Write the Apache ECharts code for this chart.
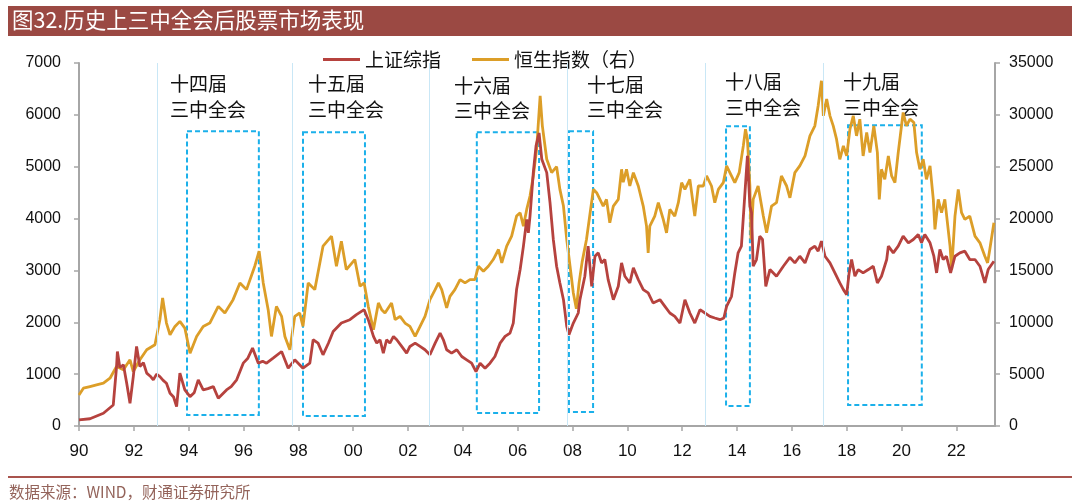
<!DOCTYPE html>
<html>
<head>
<meta charset="utf-8">
<script src="https://cdn.jsdelivr.net/npm/echarts@6/dist/echarts.min.js"></script>
<style>
html,body{margin:0;padding:0;background:#fff;}
#chart{width:1080px;height:503px;}
</style>
</head>
<body>
<div id="chart"></div>
<script>
// ---- data: [position on the chart's year axis, index value] ----
var shData = [
[1990.00,120],[1990.40,140],[1990.89,245],[1991.25,406],[1991.37,1147],[1991.40,1437],[1991.49,1128],[1991.62,1180],[1991.74,825],[1991.86,439],[1991.98,953],[1992.10,1534],[1992.22,1147],[1992.35,1220],[1992.47,1019],[1992.60,960],[1992.71,890],[1992.83,1000],[1992.95,953],[1993.07,880],[1993.19,825],[1993.32,632],[1993.45,560],[1993.56,374],[1993.68,1019],[1993.86,696],[1994.05,567],[1994.20,640],[1994.35,890],[1994.53,696],[1994.70,720],[1994.90,760],[1995.08,535],[1995.38,696],[1995.55,760],[1995.75,890],[1995.99,1212],[1996.15,1300],[1996.33,1502],[1996.54,1212],[1996.70,1250],[1996.84,1212],[1997.08,1309],[1997.39,1437],[1997.63,1115],[1997.87,1276],[1998.17,1115],[1998.42,1212],[1998.54,1663],[1998.72,1598],[1998.90,1373],[1999.10,1600],[1999.27,1824],[1999.57,1985],[1999.88,2050],[2000.12,2147],[2000.40,2243],[2000.55,2050],
[2000.74,1727],[2000.86,1598],[2000.98,1663],[2001.10,1405],[2001.22,1663],[2001.34,1598],[2001.47,1727],[2001.59,1663],[2001.77,1534],[2001.95,1405],[2002.07,1534],[2002.26,1598],[2002.44,1534],[2002.62,1470],[2002.80,1373],[2002.99,1598],[2003.17,1792],[2003.29,1663],[2003.41,1470],[2003.59,1405],[2003.78,1470],[2003.96,1340],[2004.14,1276],[2004.32,1212],[2004.48,1050],[2004.63,1212],[2004.81,1115],[2004.99,1212],[2005.17,1340],[2005.36,1598],[2005.54,1727],[2005.72,1792],[2005.84,1985],[2005.96,2630],[2006.09,3017],[2006.21,3468],[2006.33,3983],[2006.39,3726],[2006.45,4048],[2006.57,4886],[2006.67,5402],[2006.78,5650],[2006.88,5144],[2007.06,4886],[2007.18,4306],[2007.30,3597],[2007.42,3081],[2007.54,2759],[2007.67,2436],[2007.79,1920],[2007.87,1760],[2008.03,1985],[2008.21,2179],
[2008.27,2436],[2008.45,2888],[2008.57,3468],[2008.70,2694],[2008.82,3274],[2008.94,3339],[2009.06,3145],[2009.18,3210],[2009.30,2823],[2009.49,2436],[2009.67,2694],[2009.79,3145],[2009.91,2888],[2010.09,2759],[2010.22,3049],[2010.40,2823],[2010.58,2630],[2010.76,2566],[2010.94,2372],[2011.19,2436],[2011.37,2308],[2011.55,2179],[2011.73,2114],[2011.92,1985],[2012.10,2436],[2012.28,2179],[2012.46,1985],[2012.65,2243],[2012.83,2179],[2013.01,2114],[2013.19,2082],[2013.38,2050],[2013.52,2082],[2013.62,2308],[2013.80,2501],[2013.92,2952],[2014.04,3339],[2014.16,3468],[2014.29,4499],[2014.38,5208],[2014.47,4241],[2014.53,4113],[2014.59,3081],[2014.71,3210],[2014.83,3661],[2014.93,3597],[2015.05,2694],[2015.20,3017],[2015.44,2888],[2015.69,3081],[2015.93,3250],
[2016.11,3145],[2016.29,3274],[2016.48,3145],[2016.66,3403],[2016.84,3468],[2016.96,3371],[2017.08,3565],[2017.21,3274],[2017.39,3145],[2017.57,2952],[2017.75,2759],[2017.88,2630],[2018.00,2533],[2018.09,2952],[2018.18,3210],[2018.30,2888],[2018.42,3017],[2018.60,2952],[2018.79,3017],[2018.97,3081],[2019.12,2759],[2019.27,2888],[2019.46,3210],[2019.52,3468],[2019.70,3339],[2019.88,3468],[2020.06,3661],[2020.25,3532],[2020.43,3597],[2020.61,3693],[2020.73,3532],[2020.85,3693],[2021.04,3532],[2021.18,3274],[2021.28,2952],[2021.40,3403],[2021.52,3210],[2021.64,3274],[2021.79,2952],[2021.95,3274],[2022.13,3339],[2022.31,3371],[2022.49,3210],[2022.68,3210],[2022.86,3081],[2023.04,2759],[2023.16,3017],[2023.37,3178]
];
var hsData = [
[1990.00,2997],[1990.16,3645],[1990.40,3806],[1990.64,3964],[1990.89,4125],[1991.13,4610],[1991.37,5734],[1991.62,5415],[1991.86,6382],[1991.98,5251],[1992.22,6382],[1992.47,7348],[1992.77,7832],[1992.95,10249],[1993.05,12345],[1993.19,9927],[1993.32,8798],[1993.50,9603],[1993.68,10087],[1993.86,9443],[1994.05,7025],[1994.29,8637],[1994.53,9603],[1994.77,9927],[1995.08,11535],[1995.32,10893],[1995.62,12182],[1995.87,13794],[1996.11,13149],[1996.41,15402],[1996.57,16853],[1996.72,13794],[1996.90,11216],[1997.02,8637],[1997.20,11535],[1997.39,10571],[1997.51,8637],[1997.69,7348],[1997.87,10571],[1998.05,10893],[1998.17,9603],[1998.36,13794],[1998.60,13149],[1998.90,17335],[1999.21,18303],[1999.39,15402],[1999.57,17819],[1999.75,15083],[2000.06,16050],
[2000.25,13472],[2000.40,13794],[2000.55,11539],[2000.74,9282],[2000.92,11861],[2001.04,11216],[2001.16,10893],[2001.40,11861],[2001.53,10249],[2001.71,10571],[2001.89,9927],[2002.07,9603],[2002.26,8637],[2002.44,9603],[2002.62,10571],[2002.80,12182],[2002.99,13149],[2003.11,13794],[2003.23,13149],[2003.41,11378],[2003.53,12504],[2003.71,13149],[2003.90,14117],[2004.08,13794],[2004.26,14117],[2004.44,14117],[2004.57,15405],[2004.75,14920],[2004.93,15405],[2005.11,16050],[2005.30,17017],[2005.42,15727],[2005.60,17339],[2005.78,18305],[2005.96,20240],[2006.09,20563],[2006.21,19273],[2006.33,20884],[2006.45,22174],[2006.57,24107],[2006.69,26685],[2006.82,31839],[2006.90,28940],[2007.06,25718],[2007.24,24430],[2007.42,25000],[2007.54,22818],[2007.67,21206],[2007.79,17983],[2007.91,15405],[2008.03,12831],[2008.14,11300],[2008.24,13800],[2008.35,15800],
[2008.51,17983],[2008.76,22818],[2008.88,22500],[2009.00,21852],[2009.12,21206],[2009.24,21852],[2009.36,19595],[2009.49,21206],[2009.67,21852],[2009.79,24751],[2009.85,23500],[2009.97,24751],[2010.09,23140],[2010.22,24430],[2010.40,23140],[2010.58,21206],[2010.70,19273],[2010.76,16695],[2010.82,19273],[2011.00,20240],[2011.13,21530],[2011.31,19917],[2011.43,18628],[2011.55,20884],[2011.73,20240],[2011.86,21530],[2011.98,23463],[2012.10,22818],[2012.28,23785],[2012.46,20240],[2012.59,23140],[2012.77,23140],[2012.89,24107],[2013.07,23140],[2013.19,21530],[2013.32,22818],[2013.50,23463],[2013.62,25073],[2013.74,24430],[2013.92,23463],[2014.08,24430],[2014.23,27008],[2014.31,28620],[2014.38,27650],[2014.47,23140],[2014.51,17983],[2014.59,21852],[2014.77,23140],[2014.96,20240],[2015.08,18628],[2015.26,21206],[2015.44,21530],[2015.62,24107],[2015.81,23140],[2015.93,22000],
[2016.11,24430],[2016.29,25073],[2016.48,26041],[2016.66,27975],[2016.84,28940],[2016.96,30875],[2017.08,33290],[2017.15,29906],[2017.27,31520],[2017.39,29906],[2017.51,28940],[2017.63,27652],[2017.75,25718],[2017.88,27008],[2018.00,26041],[2018.12,28620],[2018.24,29906],[2018.36,27975],[2018.48,29586],[2018.60,26041],[2018.73,28298],[2018.85,26364],[2018.99,28940],[2019.12,26364],[2019.19,21852],[2019.27,24751],[2019.39,23785],[2019.52,26041],[2019.64,24107],[2019.76,23463],[2019.88,26364],[2020.06,30230],[2020.18,28940],[2020.31,29586],[2020.45,29263],[2020.55,26364],[2020.67,24751],[2020.79,25718],[2020.91,23785],[2021.04,25073],[2021.16,21852],[2021.22,18950],[2021.34,21852],[2021.46,20563],[2021.58,21852],[2021.77,17339],[2021.83,15083],[2021.95,20240],[2022.07,22818],[2022.19,20563],[2022.31,19917],[2022.49,20240],[2022.68,18305],[2022.86,17661],[2023.04,16372],[2023.14,15727],[2023.22,17017],[2023.37,19595]
];

// congress lines and post-plenum windows (x on year axis, y on left axis)
var congressLines = [1992.84,1997.77,2002.76,2007.80,2012.83,2017.13];
var boxStart = [1993.94,1998.17,2004.51,2007.87,2013.60,2018.05];
var boxEnd   = [1996.56,2000.43,2006.78,2008.75,2014.47,2020.74];
var boxTop   = [5685,5666,5666,5685,5782,5801];
var boxBottom= [213,193,251,271,387,406];
var plenumNames = ['十四届','十五届','十六届','十七届','十八届','十九届'];
var xTickLabels = ['90','92','94','96','98','00','02','04','06','08','10','12','14','16','18','20','22'];

var chart = echarts.init(document.getElementById('chart'));
var latin = 'Liberation Sans, Arial, sans-serif';
var cjk = 'Noto Sans CJK SC, sans-serif';

var labelPos = [[170,85,111],[308,85,111],[454,87,112],[587,86,111],[725,83,109],[843,83,109]];
var graphics = [
  {type:'rect', shape:{x:8,y:6,width:1064,height:30}, style:{fill:'#9B4943'}},
  {type:'text', left:12, top:9, style:{text:'图32.历史上三中全会后股票市场表现', fill:'#fff', font:'21.5px ' + cjk}},
  {type:'line', shape:{x1:8,y1:477,x2:1072,y2:477}, style:{stroke:'#A9544E', lineWidth:2}},
  {type:'text', left:9, top:484, style:{text:'数据来源：WIND，财通证券研究所', fill:'#94645B', font:'15.5px ' + cjk}}
];
plenumNames.forEach(function(n,i){
  graphics.push({type:'text', left:labelPos[i][0], top:labelPos[i][1]-11, style:{text:n, fill:'#111', font:'19px ' + cjk}});
  graphics.push({type:'text', left:labelPos[i][0], top:labelPos[i][2]-11, style:{text:'三中全会', fill:'#111', font:'19px ' + cjk}});
});

var option = {
  animation:false,
  backgroundColor:'#fff',
  graphic: graphics,
  legend:{
    data:['上证综指','恒生指数（右）'],
    left:323, top:50, padding:0, itemGap:31, itemWidth:37, itemHeight:3, icon:'rect',
    textStyle:{fontFamily:cjk, fontSize:19, color:'#111'}
  },
  grid:{left:79, right:85, top:63, bottom:77},
  xAxis:{
    type:'value', min:1990, max:2023.41, interval:2,
    splitLine:{show:false},
    axisLine:{lineStyle:{color:'#A6A6A6', width:2}},
    axisTick:{length:5, lineStyle:{color:'#A6A6A6', width:1.5}},
    axisLabel:{
      margin:17, color:'#111', fontFamily:latin, fontSize:17, showMaxLabel:false,
      formatter:function(v){ var k = Math.round((v-1990)/2); return (Math.abs(v-(1990+2*k))<1e-6 && xTickLabels[k]) ? xTickLabels[k] : ''; }
    }
  },
  yAxis:[
    {type:'value', min:0, max:7000, interval:1000, splitLine:{show:false},
     axisLine:{show:true, lineStyle:{color:'#A6A6A6', width:2}},
     axisTick:{show:true, length:5, lineStyle:{color:'#A6A6A6', width:1.5}},
     axisLabel:{margin:18, color:'#111', fontFamily:latin, fontSize:16, formatter:function(v){ return String(v); }}},
    {type:'value', min:0, max:35000, interval:5000, splitLine:{show:false},
     axisLine:{show:true, lineStyle:{color:'#A6A6A6', width:2}},
     axisTick:{show:true, length:5, lineStyle:{color:'#A6A6A6', width:1.5}},
     axisLabel:{margin:14, color:'#111', fontFamily:latin, fontSize:16, formatter:function(v){ return String(v); }}}
  ],
  series:[
    {
      name:'上证综指', type:'line', yAxisIndex:0, z:3, showSymbol:false, symbol:'none',
      data: shData,
      lineStyle:{color:'#B6423E', width:2.8}, itemStyle:{color:'#B6423E'},
      markLine:{silent:true, symbol:['none','none'], label:{show:false},
        lineStyle:{color:'#C9E7F6', width:1, type:'solid'},
        data: congressLines.map(function(v){ return {xAxis:v}; })},
      markArea:{silent:true, label:{show:false},
        itemStyle:{color:'rgba(0,0,0,0)', borderColor:'#1BB0EA', borderWidth:2, borderType:[5,3]},
        data: boxStart.map(function(s,i){ return [{coord:[s, boxTop[i]]},{coord:[boxEnd[i], boxBottom[i]]}]; })}
    },
    {
      name:'恒生指数（右）', type:'line', yAxisIndex:1, z:2, showSymbol:false, symbol:'none',
      data: hsData,
      lineStyle:{color:'#DC9E28', width:2.8}, itemStyle:{color:'#DC9E28'}
    }
  ]
};
chart.setOption(option);
</script>
</body>
</html>
